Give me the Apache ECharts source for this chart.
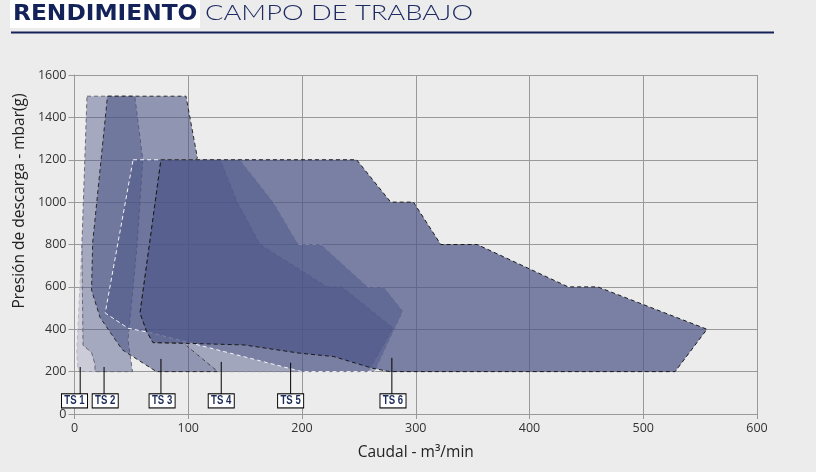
<!DOCTYPE html>
<html><head><meta charset="utf-8">
<script src="https://cdn.jsdelivr.net/npm/echarts@6/dist/echarts.min.js"></script>
<style>html,body{margin:0;padding:0;background:#ececec}#c{width:816px;height:472px}</style>
</head><body><div id="c"></div>
<script>
// Series names and label (leader) positions
const seriesNames = ['TS 1', 'TS 2', 'TS 3', 'TS 4', 'TS 5', 'TS 6'];
const labelFlow = [5, 26, 76, 129, 190, 279];      // m3/min where each leader stands
const labelBoxFlow = [0, 27, 77, 129, 190, 280];   // m3/min where each label box is centred
const labelTop  = [222, 222, 260, 246, 242, 265];  // mbar where each leader ends
const labelBase = 62;                              // mbar of the label boxes

// Working fields (caudal m3/min, presión mbar)
const ts1 = [[6.5,800],[2,290],[3,212],[5,200],[18,200],[18,235],[15,290],[7.5,325]];
const ts2 = [[11,1500],[53,1500],[60,1200],[55,800],[47,350],[51,200],[18,200],[18,235],[15,290],[7.5,325],[6.5,800]];
const ts3 = [[29,1500],[98,1500],[108,1210],[107,1200],[76,1200],[57.6,476],[63.5,389],[69,337],[96,334],[126,200],[72,200],[42,303],[22.5,455],[15,585],[16,810]];
const ts4 = [[76,1200],[128,1200],[143,1000],[163,800],[222,600],[235,600],[280,406],[258,200],[126,200],[96,334],[69,337],[63.5,389],[57.6,476]];
const ts5 = [[51.5,1200],[145.6,1200],[175,1000],[197,800],[217,800],[258,600],[272,600],[289,485],[264,200],[200,200],[66,385],[47,405],[27,477]];
const ts6 = [[76,1200],[248,1200],[278,1000],[298,1000],[322,800],[354,800],[434,600],[460,600],[556,400],[528,200],[277,200],[262,216],[228,271],[198,287],[149,326],[96,334],[69,337],[63.5,389],[57.6,476]];
const fields = [ts1, ts2, ts3, ts4, ts5, ts6];

const xTicks = [0, 100, 200, 300, 400, 500, 600];
const yTicks = [0, 200, 400, 600, 800, 1000, 1200, 1400, 1600];

const fills = ['rgba(73,82,133,0.2)','rgba(73,82,133,0.43)','rgba(73,82,133,0.57)','rgba(73,82,133,0.45)','rgba(73,82,133,0.47)','rgba(73,82,133,0.7)'];
const strokes = ['#b8b8c4','#6a6a78','#2a2a2a','#8a8a98','#f4f4f8','#1a1a1a'];

const chart = echarts.init(document.getElementById('c'));

const polySeries = fields.map((pts, i) => ({
  type: 'custom',
  name: seriesNames[i],
  data: [[pts[0][0], pts[0][1]]],
  z: 2 + i,
  clip: true,
  renderItem: function (params, api) {
    return {
      type: 'polygon',
      shape: { points: pts.map(p => api.coord(p)) },
      style: { fill: fills[i], stroke: strokes[i], lineWidth: 1, lineDash: [4, 3] }
    };
  }
}));

const labelSeries = {
  type: 'custom',
  name: 'labels',
  z: 20,
  clip: false,
  data: labelFlow.map((x, i) => [x, labelTop[i], i, labelBoxFlow[i]]),
  renderItem: function (params, api) {
    const i = api.value(2);
    const top = api.coord([api.value(0), api.value(1)]);
    const base = api.coord([api.value(0), labelBase]);
    const box = api.coord([api.value(3), labelBase]);
    return {
      type: 'group',
      children: [
        { type: 'line', shape: { x1: top[0], y1: top[1], x2: top[0], y2: base[1] }, style: { stroke: '#000', lineWidth: 1 } },
        { type: 'text', x: box[0], y: box[1], scaleX: 0.8, style: {
            text: seriesNames[i], fill: '#1b2a5c', font: 'bold 12px "Liberation Sans"',
            align: 'center', verticalAlign: 'middle', backgroundColor: '#ffffff',
            borderColor: '#000', borderWidth: 1.2, padding: [1, 3, 0, 3] } }
      ]
    };
  }
};

chart.setOption({
  backgroundColor: '#ececec',
  animation: false,
  grid: { left: 74.5, right: 59, top: 75, bottom: 58 },
  xAxis: {
    type: 'value', min: xTicks[0], max: xTicks[xTicks.length - 1], interval: 100,
    name: 'Caudal - m³/min', nameLocation: 'middle', nameGap: 31,
    nameTextStyle: { color: '#222', fontSize: 15.5, fontFamily: 'Open Sans' },
    axisLine: { show: true, lineStyle: { color: '#999' } },
    axisTick: { show: true, length: 5, lineStyle: { color: '#999' } },
    axisLabel: { color: '#333', fontSize: 12.5, fontFamily: 'Open Sans', margin: 8 },
    splitLine: { show: true, lineStyle: { color: '#999', width: 1 } }
  },
  yAxis: {
    type: 'value', min: yTicks[0], max: yTicks[yTicks.length - 1], interval: 200,
    axisLine: { show: true, lineStyle: { color: '#999' } },
    axisTick: { show: true, length: 6, lineStyle: { color: '#999' } },
    axisLabel: { color: '#333', fontSize: 12.5, fontFamily: 'Open Sans', margin: 8, formatter: v => String(v) },
    splitLine: { show: true, lineStyle: { color: '#999', width: 1 } }
  },
  graphic: [
    { type: 'rect', x: 10, y: 0, shape: { width: 190, height: 28 }, style: { fill: '#ffffff' } },
    { type: 'text', x: 13, y: 4, scaleX: 1.11, style: { text: 'RENDIMIENTO', fill: '#13235a', font: 'bold 21px "DejaVu Sans"', verticalAlign: 'top' } },
    { type: 'text', x: 205, y: 3, scaleX: 1.3, style: { text: 'CAMPO DE TRABAJO', fill: '#1d2b62', font: '300 21px Lato', verticalAlign: 'top' } },
    { type: 'line', shape: { x1: 11, y1: 32.5, x2: 774, y2: 32.5 }, style: { stroke: '#13235a', lineWidth: 2 } },
    { type: 'text', x: 20, y: 201, rotation: Math.PI / 2, style: { text: 'Presión de descarga - mbar(g)', fill: '#222', font: '15.5px "Open Sans"', align: 'center', verticalAlign: 'middle' } }
  ],
  series: polySeries.concat([labelSeries])
});
</script></body></html>
